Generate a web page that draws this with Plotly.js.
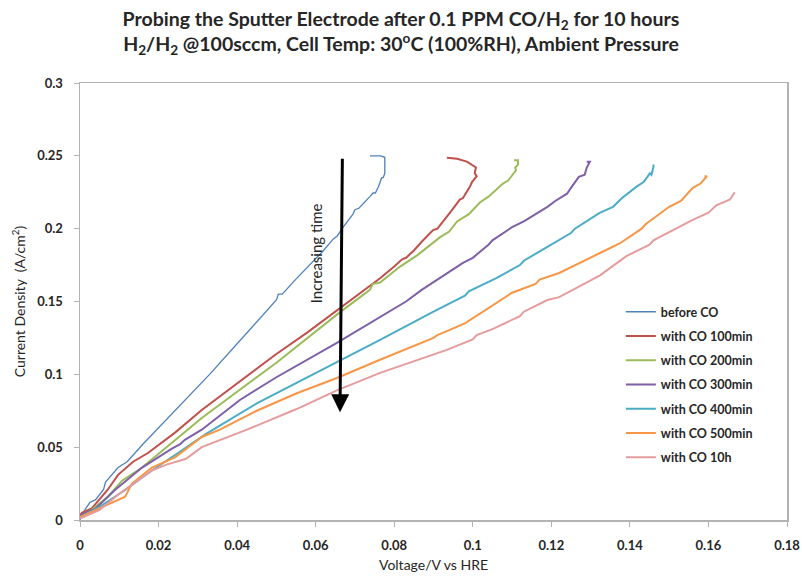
<!DOCTYPE html>
<html>
<head>
<meta charset="utf-8">
<script src="https://cdn.plot.ly/plotly-3.0.1.min.js"></script>
<style>html,body{margin:0;padding:0;background:#fff;}#chart{width:802px;height:578px;}</style>
</head>
<body>
<div id="chart"></div>
<script>
const seriesNames = ["before CO","with CO 100min","with CO 200min","with CO 300min","with CO 400min","with CO 500min","with CO 10h"];
const seriesColors = ["#4F81BD","#C0504D","#9BBB59","#7F5FA8","#4BACC6","#F79646","#E59C9C"];

const beforeCO_x = [0,0.0005,0.0025,0.004,0.006,0.0065,0.0097,0.012,0.016,0.021,0.0267,0.033,0.040,0.046,0.0500,0.0505,0.0515,0.0545,0.0578,0.0600,0.062,0.0645,0.0655,0.0670,0.0695,0.0700,0.0710,0.0738,0.0746,0.0752,0.0760,0.0768,0.0772,0.0776,0.0776,0.0765,0.0738];
const beforeCO_y = [0,0.004,0.012,0.014,0.021,0.026,0.036,0.040,0.052,0.066,0.082,0.100,0.121,0.139,0.151,0.155,0.155,0.164,0.173,0.179,0.185,0.193,0.195,0.201,0.210,0.213,0.214,0.222,0.2245,0.2245,0.229,0.235,0.235,0.238,0.249,0.250,0.250];

const co100_x = [0,0.0005,0.003,0.007,0.0097,0.0135,0.0173,0.0242,0.031,0.040,0.050,0.058,0.0654,0.070,0.0764,0.080,0.082,0.083,0.085,0.087,0.0899,0.091,0.0934,0.0945,0.0967,0.0975,0.0993,0.0998,0.101,0.1005,0.1008,0.0985,0.096,0.0934];
const co100_y = [0.003,0.005,0.008,0.0206,0.031,0.040,0.046,0.060,0.0755,0.094,0.114,0.129,0.144,0.153,0.166,0.174,0.179,0.180,0.185,0.191,0.199,0.200,0.208,0.212,0.220,0.221,0.229,0.232,0.236,0.238,0.242,0.246,0.248,0.2486];

const co200_x = [0,0.003,0.0071,0.0107,0.0158,0.0242,0.031,0.040,0.050,0.0654,0.0738,0.0745,0.0764,0.0815,0.085,0.086,0.0916,0.094,0.0960,0.099,0.1018,0.104,0.1077,0.109,0.111,0.1108,0.1115,0.1115,0.1105];
const co200_y = [0.002,0.007,0.016,0.027,0.036,0.055,0.070,0.088,0.108,0.141,0.158,0.162,0.163,0.174,0.180,0.182,0.194,0.198,0.205,0.210,0.218,0.222,0.231,0.233,0.240,0.242,0.244,0.247,0.247];

const co300_x = [0,0.004,0.0089,0.0158,0.0234,0.0255,0.0267,0.031,0.0407,0.050,0.0654,0.0764,0.082,0.083,0.087,0.0975,0.100,0.104,0.105,0.110,0.113,0.119,0.121,0.124,0.125,0.127,0.1285,0.129,0.1298,0.129];
const co300_y = [0.003,0.008,0.0206,0.036,0.049,0.052,0.055,0.062,0.0824,0.098,0.1216,0.139,0.148,0.150,0.158,0.1765,0.180,0.189,0.192,0.201,0.205,0.215,0.219,0.224,0.228,0.2356,0.237,0.2418,0.246,0.246];

const co400_x = [0,0.005,0.0115,0.0183,0.0242,0.032,0.045,0.0654,0.0764,0.090,0.098,0.099,0.106,0.112,0.113,0.119,0.125,0.126,0.1323,0.1357,0.138,0.1418,0.1435,0.1451,0.1455,0.146,0.146];
const co400_y = [0.002,0.009,0.0206,0.034,0.0446,0.059,0.080,0.108,0.1236,0.143,0.154,0.157,0.166,0.175,0.178,0.1875,0.197,0.200,0.2108,0.215,0.221,0.229,0.232,0.238,0.237,0.2425,0.244];

const co500_x = [0,0.005,0.0115,0.0132,0.0183,0.0242,0.031,0.0356,0.045,0.0552,0.0654,0.0764,0.0848,0.090,0.091,0.098,0.110,0.116,0.117,0.122,0.1324,0.1375,0.143,0.144,0.150,0.153,0.156,0.158,0.1596,0.159];
const co500_y = [0.002,0.008,0.016,0.025,0.036,0.043,0.057,0.062,0.075,0.087,0.0975,0.110,0.119,0.125,0.127,0.135,0.156,0.162,0.165,0.1696,0.1833,0.190,0.200,0.203,0.215,0.219,0.228,0.231,0.236,0.236];

const co10h_x = [0,0.005,0.010,0.015,0.0183,0.022,0.027,0.031,0.0425,0.055,0.0654,0.0764,0.0934,0.100,0.101,0.105,0.112,0.113,0.119,0.122,0.1324,0.139,0.145,0.146,0.156,0.160,0.162,0.1655,0.1667];
const co10h_y = [0.001,0.007,0.018,0.028,0.034,0.038,0.042,0.050,0.062,0.076,0.089,0.101,0.1168,0.124,0.127,0.131,0.140,0.143,0.151,0.153,0.168,0.181,0.189,0.192,0.206,0.211,0.216,0.220,0.225];

const xTickVals = [0,0.02,0.04,0.06,0.08,0.1,0.12,0.14,0.16,0.18];
const xTickText = ["0","0.02","0.04","0.06","0.08","0.1","0.12","0.14","0.16","0.18"];
const yTickVals = [0,0.05,0.1,0.15,0.2,0.25,0.3];
const yTickText = ["0","0.05","0.1","0.15","0.2","0.25","0.3"];

const xs = [beforeCO_x,co100_x,co200_x,co300_x,co400_x,co500_x,co10h_x];
const ys = [beforeCO_y,co100_y,co200_y,co300_y,co400_y,co500_y,co10h_y];
const widths = [1.3,2,2,2,2,2,2];

const traces = seriesNames.map((n,i)=>({
  x: xs[i], y: ys[i], name: n, type:'scatter', mode:'lines',
  legendgroup: n,
  line:{color:seriesColors[i], width:widths[i]}
}));

const FONT = 'Lato, "Open Sans", sans-serif';
const layout = {
  width:802, height:578,
  margin:{l:80, r:15, t:83, b:58},
  paper_bgcolor:'#fff', plot_bgcolor:'#fff',
  font:{family:FONT, color:'#262626'},
  title:{text:'Probing the Sputter Electrode after 0.1 PPM CO/H<sub>2</sub> for 10 hours<br>H<sub>2</sub>/H<sub>2</sub> @100sccm, Cell Temp: 30<sup>o</sup>C (100%RH), Ambient Pressure',
    font:{family:FONT, size:19.5, color:'#262626', weight:700}, x:0.5, xanchor:'center', y:0.955, yanchor:'top'},
  xaxis:{range:[0,0.18], tickvals:xTickVals, ticktext:xTickText, showgrid:false, zeroline:false,
    showline:true, linecolor:'#b3b3b3', linewidth:1.5, mirror:true, ticks:'outside', ticklen:5, tickcolor:'#b3b3b3',
    ticklabelstandoff:8,
    tickfont:{family:FONT, size:13, color:'#262626', weight:700},
    title:{text:'Voltage/V vs HRE', font:{family:FONT, size:14, color:'#262626'}, standoff:8}},
  yaxis:{range:[0,0.3], tickvals:yTickVals, ticktext:yTickText, showgrid:false, zeroline:false,
    showline:true, linecolor:'#b3b3b3', linewidth:1.5, mirror:true, ticks:'outside', ticklen:5, tickcolor:'#b3b3b3',
    ticklabelstandoff:8,
    tickfont:{family:FONT, size:13, color:'#262626', weight:700},
    title:{text:'Current Density  (A/cm<sup>2</sup>)', font:{family:FONT, size:14, color:'#262626'}, standoff:8}},
  legend:{x:0.765, xanchor:'left', y:0.51, yanchor:'top', bgcolor:'rgba(0,0,0,0)', borderwidth:0,
    font:{family:FONT, size:12.5, color:'#262626', weight:700}, tracegroupgap:5, itemwidth:30, traceorder:'grouped'},
  showlegend:true,
  annotations:[
    {x:0.0662, y:0.074, ax:0.0668, ay:0.249, xref:'x', yref:'y', axref:'x', ayref:'y', text:'', showarrow:true,
     arrowhead:2, arrowsize:1.2, arrowwidth:3, arrowcolor:'#000'},
    {x:0.0603, y:0.183, xref:'x', yref:'y', text:'Increasing time', showarrow:false, textangle:-90,
     font:{family:FONT, size:15, color:'#262626'}}
  ]
};
Plotly.newPlot('chart', traces, layout, {displayModeBar:false, staticPlot:true});
</script>
</body>
</html>
